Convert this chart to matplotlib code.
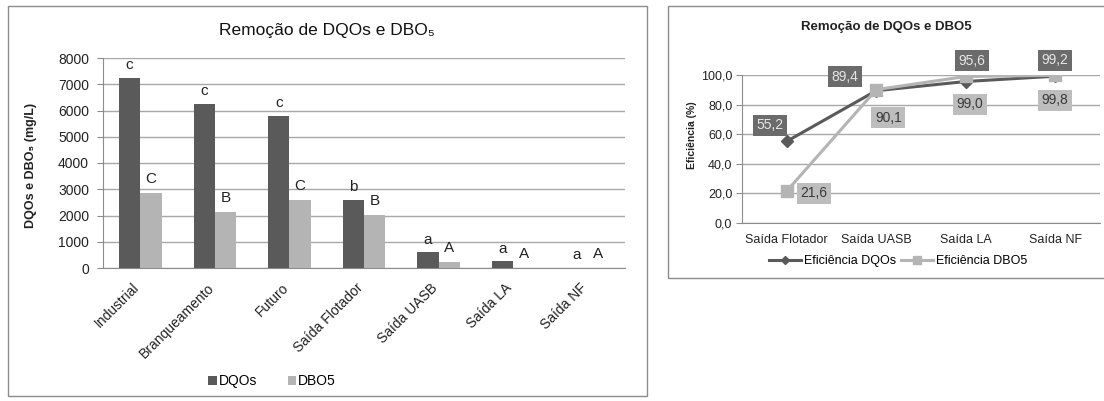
import matplotlib
matplotlib.use("Agg")
import matplotlib.pyplot as plt
from matplotlib.patches import Rectangle
from matplotlib.transforms import ScaledTranslation
import numpy as np

plt.rcParams['font.family'] = ['Liberation Sans', 'DejaVu Sans']

# ---- data: concentrations (mg/L) ----
stages = ["Industrial", "Branqueamento", "Futuro", "Saída Flotador",
          "Saída UASB", "Saída LA", "Saída NF"]
dqo = [7250, 6250, 5800, 2600, 600, 260, 0]
dbo = [2850, 2150, 2600, 2030, 220, 0, 0]
dqo_groups = ["c", "c", "c", "b", "a", "a", "a"]
dbo_groups = ["C", "B", "C", "B", "A", "A", "A"]

# ---- data: removal efficiency (%) ----
eff_stages = ["Saída Flotador", "Saída UASB", "Saída LA", "Saída NF"]
eff_dqo = [55.2, 89.4, 95.6, 99.2]
eff_dbo = [21.6, 90.1, 99.0, 99.8]

DARK = "#5a5a5a"
LIGHT = "#b4b4b4"
GRID = "#a8a8a8"
FRAME = "#8c8c8c"
TXT = "#222222"

W, H = 1104, 401
fig = plt.figure(figsize=(W / 100, H / 100), dpi=100)
fig.patch.set_facecolor("white")


def fx(px):
    return px / W


def fy(py):
    return 1 - py / H


# panel frames
fig.add_artist(Rectangle((fx(8), fy(396)), fx(647) - fx(8), fy(6) - fy(396),
                         transform=fig.transFigure, fill=False,
                         edgecolor=FRAME, linewidth=1.0))
fig.add_artist(Rectangle((fx(668), fy(278)), fx(1110) - fx(668), fy(6) - fy(278),
                         transform=fig.transFigure, fill=False,
                         edgecolor=FRAME, linewidth=1.0))

# ================= bar chart =================
ax = fig.add_axes([fx(103), fy(268), fx(625) - fx(103), fy(58) - fy(268)])
x = np.arange(len(stages))
bw = 0.285
b1 = ax.bar(x - bw / 2, dqo, bw, color=DARK, label="DQOs", zorder=3)
b2 = ax.bar(x + bw / 2, dbo, bw, color=LIGHT, label="DBO5", zorder=3)

for xi, v, g in zip(x, dqo, dqo_groups):
    ax.annotate(g, (xi - bw / 2, v), xytext=(0, 4), textcoords="offset points",
                ha="center", va="bottom", fontsize=11, color=TXT)
for xi, v, g in zip(x, dbo, dbo_groups):
    ax.annotate(g, (xi + bw / 2, v), xytext=(0, 5), textcoords="offset points",
                ha="center", va="bottom", fontsize=11, color=TXT)

ax.set_xlim(-0.5, len(stages) - 0.5)
ax.set_ylim(0, 8000)
ax.set_yticks(np.arange(0, 8001, 1000))
ax.yaxis.grid(True, color=GRID, linewidth=1.0, zorder=0)
ax.set_axisbelow(True)
for s in ["top", "right"]:
    ax.spines[s].set_visible(False)
ax.spines["left"].set_color(FRAME)
ax.spines["bottom"].set_color(FRAME)
ax.tick_params(axis="y", length=4, color=FRAME, labelsize=10, labelcolor=TXT, pad=6)
ax.tick_params(axis="x", length=0, labelsize=10, labelcolor=TXT, pad=9)
ax.set_xticks(x)
ax.set_xticklabels(stages, rotation=45, ha="right", rotation_mode="anchor")
shift = ScaledTranslation(-8 / 100, 0, fig.dpi_scale_trans)
for lbl in ax.get_xticklabels():
    lbl.set_transform(lbl.get_transform() + shift)

fig.text(fx(327), fy(31), "Remoção de DQOs e DBO₅", ha="center", va="center",
         fontsize=12.5, color="#111111")
fig.text(fx(31), fy(165), "DQOs e DBO₅ (mg/L)", rotation=90, ha="center",
         va="center", fontsize=9, fontweight="bold", color=TXT)
fig.legend(handles=[b1, b2], loc="center", bbox_to_anchor=(fx(272), fy(381)),
           ncol=2, frameon=False, fontsize=10, handlelength=0.6,
           handleheight=0.6, handletextpad=0.15, columnspacing=2.2)

# ================= efficiency chart =================
ax2 = fig.add_axes([fx(742), fy(223), fx(1100) - fx(742), fy(75) - fy(223)])
xe = np.arange(len(eff_stages))
l1, = ax2.plot(xe, eff_dqo, color=DARK, linewidth=2.2, marker="D",
               markersize=6, zorder=3, label="Eficiência DQOs")
l2, = ax2.plot(xe, eff_dbo, color=LIGHT, linewidth=2.2, marker="s",
               markersize=8, zorder=4, label="Eficiência DBO5")

dqo_off = [(-17, 16), (-31, 14), (6, 21), (0, 16)]
dbo_off = [(27, -2), (12, -28), (4, -28), (0, -25)]
for xi, v, off in zip(xe, eff_dqo, dqo_off):
    ax2.annotate(f"{v:.1f}".replace(".", ","), (xi, v), xytext=off,
                 textcoords="offset pixels", ha="center", va="center",
                 fontsize=10, color="#e6e6e6", zorder=6,
                 bbox=dict(boxstyle="square,pad=0.25", fc="#6b6b6b", ec="none"))
for xi, v, off in zip(xe, eff_dbo, dbo_off):
    ax2.annotate(f"{v:.1f}".replace(".", ","), (xi, v), xytext=off,
                 textcoords="offset pixels", ha="center", va="center",
                 fontsize=10, color="#3a3a3a", zorder=6,
                 bbox=dict(boxstyle="square,pad=0.25", fc="#bdbdbd", ec="none"))

ax2.set_xlim(-0.5, len(eff_stages) - 0.5)
ax2.set_ylim(0, 100)
ax2.set_yticks(np.arange(0, 101, 20))
ax2.set_yticklabels([f"{t:.1f}".replace(".", ",") for t in np.arange(0, 101, 20)])
ax2.yaxis.grid(True, color=GRID, linewidth=1.0, zorder=0)
ax2.set_axisbelow(True)
for s in ["top", "right"]:
    ax2.spines[s].set_visible(False)
ax2.spines["left"].set_color(FRAME)
ax2.spines["bottom"].set_color(FRAME)
ax2.tick_params(axis="y", length=4, color=FRAME, labelsize=9, labelcolor=TXT, pad=3)
ax2.tick_params(axis="x", length=0, labelsize=9, labelcolor=TXT, pad=8)
ax2.set_xticks(xe)
ax2.set_xticklabels(eff_stages)

fig.text(fx(886), fy(27), "Remoção de DQOs e DBO5", ha="center", va="center",
         fontsize=9.5, fontweight="bold", color="#222222")
fig.text(fx(692), fy(135), "Eficiência (%)", rotation=90, ha="center",
         va="center", fontsize=7.5, fontweight="bold", color=TXT)
fig.legend(handles=[l1, l2], loc="center", bbox_to_anchor=(fx(898), fy(261)),
           ncol=2, frameon=False, fontsize=9, handlelength=2.6,
           handletextpad=0.2, columnspacing=0.4, markerscale=0.7)

fig.savefig("out.png", dpi=100, facecolor="white")
